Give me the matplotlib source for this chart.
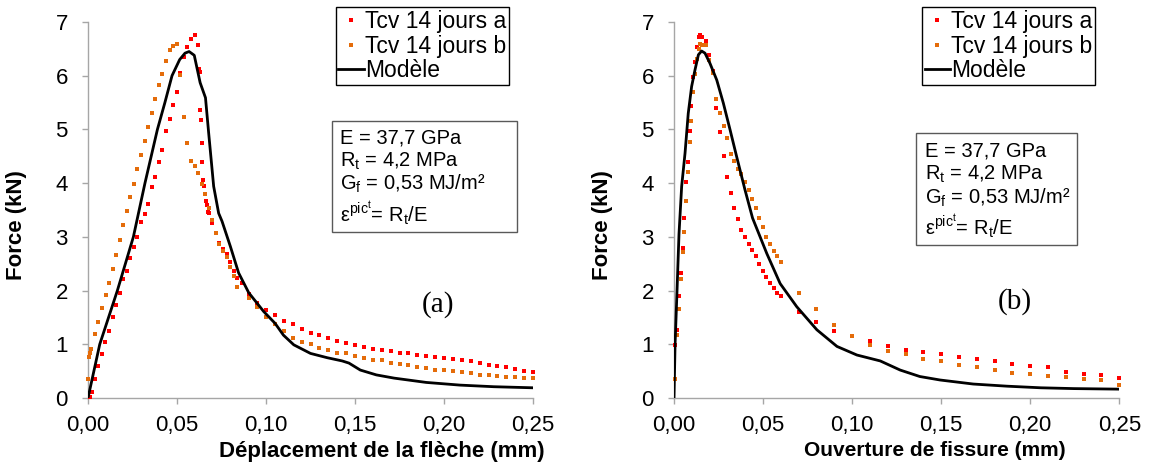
import numpy as np
import matplotlib
matplotlib.use('Agg')
import matplotlib.pyplot as plt
from matplotlib.ticker import FuncFormatter, MultipleLocator
from matplotlib.patches import Rectangle

plt.rcParams['font.family'] = ['Liberation Sans', 'DejaVu Sans']
plt.rcParams['mathtext.fontset'] = 'custom'
plt.rcParams['mathtext.rm'] = 'Liberation Sans'
plt.rcParams['mathtext.it'] = 'Liberation Sans:italic'
plt.rcParams['mathtext.bf'] = 'Liberation Sans:bold'

###############################################
# (a) force / deplacement de la fleche
###############################################
fleche_a_x = [0.001, 0.002, 0.004, 0.0056, 0.0079, 0.0097, 0.0118, 0.0142, 0.0157, 0.018,
              0.0199, 0.0219, 0.0236, 0.0258, 0.0275, 0.0298, 0.032, 0.0337, 0.036, 0.0376,
              0.0399, 0.0418, 0.0438, 0.0461, 0.0478, 0.05, 0.0519, 0.0539, 0.0556, 0.0579,
              0.0601, 0.062, 0.0625, 0.063, 0.063, 0.0637, 0.0642, 0.0642, 0.0648, 0.0654,
              0.0665, 0.067, 0.0676, 0.068, 0.0698, 0.0719, 0.0738, 0.076, 0.0783, 0.0798,
              0.0822, 0.0839, 0.0863, 0.0903, 0.0951,
              0.100, 0.105, 0.110, 0.115, 0.120, 0.125, 0.130, 0.135, 0.140, 0.145,
              0.150, 0.155, 0.160, 0.165, 0.170, 0.175, 0.180, 0.185, 0.190, 0.195,
              0.200, 0.205, 0.210, 0.215, 0.220, 0.225, 0.230, 0.235, 0.240, 0.245, 0.250]
fleche_a_f = [0.01, 0.12, 0.35, 0.59, 0.81, 1.04, 1.25, 1.50, 1.73, 1.95,
              2.21, 2.36, 2.60, 2.81, 3.00, 3.27, 3.42, 3.61, 3.92, 4.11,
              4.39, 4.61, 4.97, 5.19, 5.45, 5.69, 6.05, 6.34, 6.53, 6.68,
              6.75, 6.57, 6.13, 6.06, 5.37, 5.17, 4.74, 4.39, 4.05, 3.95,
              3.66, 3.60, 3.46, 3.44, 3.25, 3.08, 2.89, 2.77, 2.68, 2.53,
              2.36, 2.24, 2.14, 1.94, 1.77,
              1.63, 1.54, 1.44, 1.37, 1.28, 1.21, 1.17, 1.12, 1.06, 1.02,
              0.99, 0.95, 0.91, 0.89, 0.87, 0.84, 0.83, 0.80, 0.78, 0.77,
              0.75, 0.73, 0.71, 0.69, 0.66, 0.61, 0.59, 0.58, 0.54, 0.51, 0.48]

fleche_b_x = [0.0, 0.0006, 0.0009, 0.0019, 0.0041, 0.0058, 0.0081, 0.0099, 0.012, 0.014,
              0.0157, 0.0182, 0.0199, 0.0221, 0.0238, 0.0258, 0.0275, 0.03, 0.032, 0.0339,
              0.036, 0.0378, 0.0399, 0.0418, 0.0438, 0.0461, 0.0478, 0.05, 0.0519, 0.0539,
              0.0556, 0.0579, 0.0601, 0.062, 0.064, 0.0659, 0.068, 0.0698, 0.0719, 0.0738,
              0.076, 0.0783, 0.0798, 0.0822, 0.0839, 0.0903, 0.0951,
              0.100, 0.105, 0.110, 0.115, 0.120, 0.125, 0.130, 0.135, 0.140, 0.145,
              0.150, 0.155, 0.160, 0.165, 0.170, 0.175, 0.180, 0.185, 0.190, 0.195,
              0.200, 0.205, 0.210, 0.215, 0.220, 0.225, 0.230, 0.235, 0.240, 0.245, 0.250]
fleche_b_f = [0.35, 0.76, 0.84, 0.92, 1.19, 1.42, 1.68, 1.91, 2.15, 2.41,
              2.67, 2.95, 3.23, 3.49, 3.75, 3.99, 4.27, 4.53, 4.79, 5.04,
              5.31, 5.57, 5.82, 6.04, 6.28, 6.47, 6.56, 6.59, 6.02, 5.23,
              4.75, 4.42, 4.31, 4.18, 3.98, 3.80, 3.53, 3.32, 3.07, 2.86,
              2.73, 2.62, 2.43, 2.27, 2.07, 1.87, 1.69,
              1.51, 1.37, 1.25, 1.12, 1.05, 1.00, 0.93, 0.90, 0.84, 0.83,
              0.78, 0.74, 0.71, 0.70, 0.66, 0.63, 0.61, 0.58, 0.55, 0.53,
              0.52, 0.50, 0.48, 0.46, 0.43, 0.43, 0.41, 0.39, 0.39, 0.38, 0.38]

fleche_mod_x = [0.0, 0.0066, 0.0165, 0.0255, 0.032, 0.039, 0.0432, 0.0472, 0.0515, 0.0545,
                0.0568, 0.0597, 0.063, 0.066, 0.0678, 0.0706, 0.0734, 0.0753, 0.080, 0.0846,
                0.0903, 0.0987, 0.1051, 0.1098, 0.1156, 0.125, 0.1344, 0.1428, 0.1466, 0.153,
                0.162, 0.172, 0.190, 0.209, 0.228, 0.250]
fleche_mod_f = [0.0, 1.0, 2.0, 3.0, 4.0, 5.0, 5.5, 6.0, 6.3, 6.42,
                6.45, 6.38, 5.87, 5.59, 4.93, 3.94, 3.44, 3.29, 2.82, 2.33,
                1.96, 1.61, 1.39, 1.17, 0.99, 0.83, 0.75, 0.69, 0.65, 0.52,
                0.43, 0.37, 0.29, 0.24, 0.21, 0.19]

###############################################
# (b) force / ouverture de fissure
###############################################
fissure_a_x = [0.0004, 0.0017, 0.0028, 0.0039, 0.0049, 0.0056, 0.0067, 0.0077, 0.0088, 0.0096,
               0.0107, 0.0118, 0.0127, 0.014, 0.0146, 0.0157, 0.018, 0.0197, 0.0219, 0.0236,
               0.0258, 0.0281, 0.0298, 0.032, 0.0337, 0.036, 0.0376, 0.0399, 0.0421, 0.0438,
               0.0461, 0.0478, 0.05, 0.0517, 0.0539, 0.0562, 0.0579, 0.0601, 0.07, 0.08,
               0.09, 0.11, 0.12, 0.13, 0.14, 0.15, 0.16, 0.17, 0.18, 0.19,
               0.20, 0.21, 0.22, 0.23, 0.24, 0.25]
fissure_a_f = [0.99, 1.27, 1.89, 2.32, 2.80, 3.36, 4.03, 4.40, 4.98, 5.44,
               5.98, 6.25, 6.53, 6.72, 6.75, 6.73, 6.64, 6.39, 6.09, 5.39,
               4.95, 4.50, 4.12, 3.81, 3.54, 3.34, 3.13, 2.99, 2.86, 2.75,
               2.65, 2.50, 2.37, 2.25, 2.15, 2.05, 1.96, 1.89, 1.61, 1.42,
               1.25, 1.06, 0.97, 0.90, 0.86, 0.81, 0.77, 0.73, 0.69, 0.64,
               0.60, 0.57, 0.49, 0.44, 0.42, 0.38]

fissure_b_x = [0.0004, 0.0017, 0.0028, 0.0039, 0.0049, 0.0056, 0.0067, 0.0077, 0.0088, 0.0096,
               0.0107, 0.0118, 0.0127, 0.014, 0.0146, 0.016, 0.018, 0.0197, 0.0219, 0.0236,
               0.0258, 0.0281, 0.0298, 0.032, 0.0337, 0.036, 0.0376, 0.0399, 0.0421, 0.0438,
               0.0461, 0.0478, 0.05, 0.0517, 0.0539, 0.0562, 0.0579, 0.0601, 0.07, 0.08,
               0.09, 0.10, 0.11, 0.12, 0.13, 0.14, 0.15, 0.16, 0.17, 0.18,
               0.19, 0.20, 0.21, 0.22, 0.23, 0.24, 0.25]
fissure_b_f = [0.35, 1.17, 1.66, 2.21, 2.72, 3.09, 3.67, 4.20, 4.77, 5.16,
               5.69, 6.04, 6.32, 6.49, 6.59, 6.57, 6.57, 6.30, 6.05, 5.56,
               5.31, 5.07, 4.84, 4.55, 4.42, 4.27, 4.17, 4.03, 3.88, 3.71,
               3.53, 3.36, 3.19, 3.00, 2.87, 2.74, 2.65, 2.54, 1.96, 1.66,
               1.35, 1.15, 0.99, 0.88, 0.81, 0.73, 0.68, 0.62, 0.57, 0.53,
               0.47, 0.45, 0.41, 0.40, 0.36, 0.34, 0.24]

fissure_mod_x = [0.0, 0.0006, 0.0017, 0.0028, 0.0043, 0.0062, 0.008, 0.0099, 0.0118, 0.0137,
                 0.0155, 0.0174, 0.0202, 0.024, 0.0277, 0.0315, 0.0352, 0.0399, 0.0441, 0.0521,
                 0.0596, 0.0689, 0.0802, 0.0915, 0.1027, 0.1158, 0.127, 0.138, 0.1494, 0.168,
                 0.187, 0.206, 0.2245, 0.25]
fissure_mod_f = [0.0, 1.0, 2.0, 3.05, 3.94, 4.56, 5.30, 5.80, 6.11, 6.39,
                 6.46, 6.42, 6.23, 5.92, 5.49, 4.99, 4.49, 3.87, 3.35, 2.69,
                 2.13, 1.70, 1.27, 0.96, 0.80, 0.69, 0.52, 0.40, 0.335, 0.26,
                 0.22, 0.19, 0.175, 0.165]

noms_series = ['Tcv 14 jours a', 'Tcv 14 jours b', 'Modèle']
texte_param = ['E = 37,7 GPa', r'R$_\mathrm{t}$ = 4,2 MPa', r'G$_\mathrm{f}$ = 0,53 MJ/m²',
               r'$\mathrm{ε}^{\mathrm{pic}^{\mathrm{t}}}$= R$_\mathrm{t}$/E']

ROUGE = '#FF0000'
ORANGE = '#E46C0A'
GRIS = '#A6A6A6'
W, H = 1149, 468


def virgule(v, p):
    return ('%.2f' % v).replace('.', ',')


def fx(px):
    return px / W


def fy(py):
    return 1 - py / H


def graficar(ax, xa, fa, xb, fb, xm, fm, xlabel, x_label_pos, xlabel_size):
    ax.plot(xa, fa, 's', color=ROUGE, ms=3.4, mew=0, label=noms_series[0], clip_on=False, zorder=3)
    ax.plot(xb, fb, 's', color=ORANGE, ms=3.4, mew=0, label=noms_series[1], clip_on=False, zorder=3)
    ax.plot(xm, fm, '-', color='black', lw=2, label=noms_series[2], zorder=4)
    ax.set_xlim(0, 0.25)
    ax.set_ylim(0, 7)
    ax.xaxis.set_major_locator(MultipleLocator(0.05))
    ax.yaxis.set_major_locator(MultipleLocator(1))
    ax.xaxis.set_major_formatter(FuncFormatter(virgule))
    for s in ['top', 'right']:
        ax.spines[s].set_visible(False)
    for s in ['left', 'bottom']:
        ax.spines[s].set_color(GRIS)
        ax.spines[s].set_linewidth(1)
    ax.tick_params(axis='both', direction='out', length=4.5, width=1, color=GRIS,
                   labelsize=16, labelcolor='black')
    ax.tick_params(axis='y', pad=10)
    ax.tick_params(axis='x', pad=8)
    ax.set_ylabel('Force (kN)', fontsize=16, fontweight='bold')
    ax.yaxis.set_label_coords(-0.137, 0.46)
    ax.set_xlabel(xlabel, fontsize=xlabel_size, fontweight='bold')
    ax.xaxis.set_label_coords(x_label_pos, -0.115)


def cadre_param(fig, x0, y0, x1, y1, tx, bases):
    fig.add_artist(Rectangle((fx(x0), fy(y1)), (x1 - x0) / W, (y1 - y0) / H,
                             transform=fig.transFigure, fill=False, edgecolor='#595959', lw=1))
    for texte, b in zip(texte_param, bases):
        fig.text(fx(tx), fy(b), texte, fontsize=14.5, va='baseline', ha='left')


fig = plt.figure(figsize=(W / 100, H / 100), dpi=100)
ax1 = fig.add_axes([88 / W, 70 / H, 445 / W, 376 / H])
ax2 = fig.add_axes([674 / W, 70 / H, 445.3 / W, 376 / H])

graficar(ax1, fleche_a_x, fleche_a_f, fleche_b_x, fleche_b_f, fleche_mod_x, fleche_mod_f,
         'Déplacement de la flèche (mm)', 0.66, 16)
graficar(ax2, fissure_a_x, fissure_a_f, fissure_b_x, fissure_b_f, fissure_mod_x, fissure_mod_f,
         'Ouverture de fissure (mm)', 0.585, 15)

for ax, x_leg in [(ax1, 335.7), (ax2, 922)]:
    leg = ax.legend(loc='upper left', bbox_to_anchor=(fx(x_leg), fy(7)), bbox_transform=fig.transFigure,
                    fontsize=16.5, frameon=True, fancybox=False, edgecolor='black', framealpha=1,
                    borderpad=0.12, labelspacing=0.08, handlelength=1.1, handletextpad=0.05,
                    borderaxespad=0, numpoints=1, markerscale=1.0)
    leg.get_frame().set_linewidth(1)

cadre_param(fig, 331.7, 120.7, 516.7, 232.3, 340, [143.3, 166.7, 190, 221.7])
cadre_param(fig, 915.7, 133.3, 1077.3, 245, 925, [156.7, 180, 203.3, 235])

fig.text(fx(438), fy(305), '(a)', fontsize=21, family='Liberation Serif', ha='center', va='center')
fig.text(fx(1015), fy(302), '(b)', fontsize=21, family='Liberation Serif', ha='center', va='center')

fig.savefig('out.png', dpi=100)
